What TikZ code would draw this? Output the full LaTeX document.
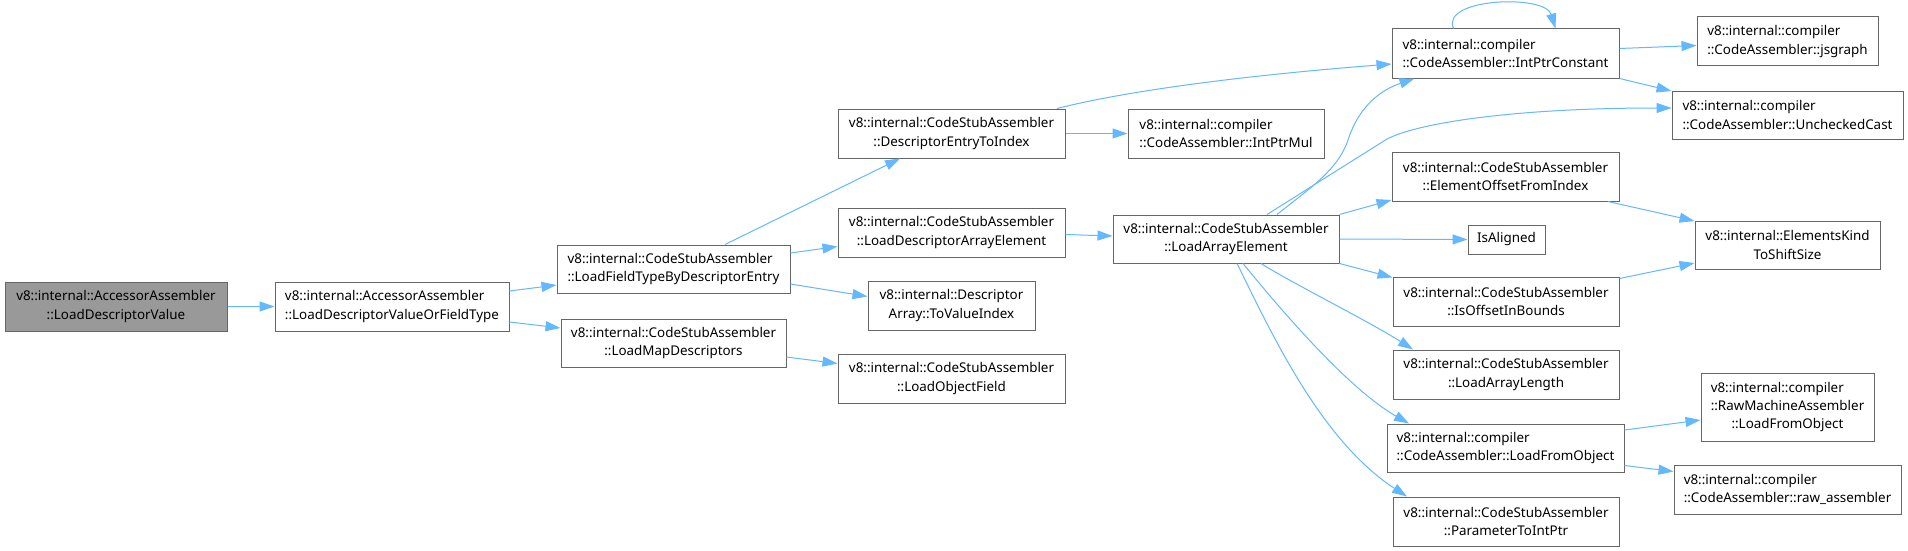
\documentclass[tikz,border=0pt]{standalone}
\usepackage{fontspec}
\setmainfont{Noto Sans}
\usetikzlibrary{arrows.meta,calc}
\definecolor{edgeblue}{HTML}{63B8FF}
\definecolor{boxborder}{HTML}{666666}
\definecolor{selfill}{HTML}{999999}
\newcommand\lalign[2]{\setbox0=\hbox{#1}\makebox[\wd0][l]{#2}}
\begin{document}
\begin{tikzpicture}[x=1pt,y=-1pt,
  box/.style={draw=boxborder, line width=1pt, fill=white, inner sep=0pt, text=black,
    font=\fontsize{13.4}{18.3}\selectfont, align=center},
  lbox/.style={box, align=left},
  link/.style={draw=edgeblue, line width=1pt, -{Triangle[length=15pt,width=10pt]}},
]
\useasboundingbox[fill=white] (0,0) rectangle (1908,551);

% column 0-1
\node[box, fill=selfill, minimum width=222pt, minimum height=49pt] (ldv) at (116,306.5)
  {v8::internal::AccessorAssembler\\::LoadDescriptorValue};
\node[lbox, minimum width=234pt, minimum height=49pt] (ldvo) at (392,306.5)
  {v8::internal::AccessorAssembler\\::LoadDescriptorValueOrFieldType};
% column 2
\node[lbox, minimum width=233pt, minimum height=48pt] (lftbde) at (673.5,269)
  {v8::internal::CodeStubAssembler\\::LoadFieldTypeByDescriptorEntry};
\node[box, minimum width=225pt, minimum height=48pt] (lmd) at (673.5,343)
  {v8::internal::CodeStubAssembler\\::LoadMapDescriptors};
% column 3
\node[box, minimum width=227pt, minimum height=49pt] (deti) at (951.5,133.5)
  {v8::internal::CodeStubAssembler\\::DescriptorEntryToIndex};
\node[box, minimum width=227pt, minimum height=49pt] (ldae) at (951.5,232.5)
  {v8::internal::CodeStubAssembler\\::LoadDescriptorArrayElement};
\node[box, minimum width=167pt, minimum height=49pt] (tvi) at (951.5,305.5)
  {v8::internal::Descriptor\\Array::ToValueIndex};
\node[box, minimum width=227pt, minimum height=49pt] (lof) at (951.5,378.5)
  {v8::internal::CodeStubAssembler\\::LoadObjectField};
% column 4
\node[lbox, minimum width=196pt, minimum height=49pt] (ipm) at (1226,133.5)
  {v8::internal::compiler\\::CodeAssembler::IntPtrMul};
\node[box, minimum width=226pt, minimum height=48pt] (lae) at (1226,239)
  {v8::internal::CodeStubAssembler\\::LoadArrayElement};
% column 5
\node[lbox, minimum width=227pt, minimum height=49pt] (ipc) at (1505.5,53.5)
  {v8::internal::compiler\\::CodeAssembler::IntPtrConstant};
\node[box, minimum width=227pt, minimum height=49pt] (eofi) at (1505.5,176.5)
  {v8::internal::CodeStubAssembler\\::ElementOffsetFromIndex};
\node[box, minimum width=77pt, minimum height=29pt] (isa) at (1506.5,239.5)
  {IsAligned};
\node[box, minimum width=226pt, minimum height=49pt] (ioib) at (1506,301.5)
  {v8::internal::CodeStubAssembler\\::IsOffsetInBounds};
\node[box, minimum width=226pt, minimum height=49pt] (lal) at (1506,374.5)
  {v8::internal::CodeStubAssembler\\::LoadArrayLength};
\node[lbox, minimum width=237pt, minimum height=48pt] (lfo) at (1505.5,448)
  {v8::internal::compiler\\::CodeAssembler::LoadFromObject};
\node[box, minimum width=226pt, minimum height=49pt] (pti) at (1506,521.5)
  {v8::internal::CodeStubAssembler\\::ParameterToIntPtr};
% column 6
\node[lbox, minimum width=181pt, minimum height=49pt] (jsg) at (1787.5,41.5)
  {v8::internal::compiler\\::CodeAssembler::jsgraph};
\node[lbox, minimum width=231pt, minimum height=48pt] (uc) at (1787.5,115)
  {v8::internal::compiler\\::CodeAssembler::UncheckedCast};
\node[box, minimum width=185pt, minimum height=48pt] (ek) at (1787.5,245)
  {v8::internal::ElementsKind\\ToShiftSize};
\node[box, minimum width=173pt, minimum height=68pt] (rma) at (1787.5,407)
  {\lalign{::RawMachineAssembler}{v8::internal::compiler}\\::RawMachineAssembler\\::LoadFromObject};
\node[lbox, minimum width=227pt, minimum height=49pt] (raw) at (1787.5,489.5)
  {v8::internal::compiler\\::CodeAssembler::raw\_assembler};

% edges
\draw[link] (ldv.east) -- (ldvo.west);
\draw[link] ($(ldvo.east)+(0,-15.5)$) -- ($(lftbde.west)+(0,16)$);
\draw[link] ($(ldvo.east)+(0,15.5)$) -- ($(lmd.west)+(0,-15)$);
\draw[link] ($(lftbde.north)+(51.5,0)$) -- ($(deti.south)+(-51.5,0)$);
\draw[link] ($(lftbde.east)+(0,-16)$) -- ($(ldae.west)+(0,14)$);
\draw[link] ($(lftbde.east)+(0,15)$) -- ($(tvi.west)+(0,-9)$);
\draw[link] ($(lmd.east)+(0,14)$) -- ($(lof.west)+(0,-15)$);
\draw[link] ($(deti.north)+(105.5,0)$) .. controls (1130,90) and (1250,75) .. ($(ipc.west)+(0,10.5)$);
\draw[link] (deti.east) -- (ipm.west);
\draw[link] ($(ldae.east)+(0,2)$) -- ($(lae.west)+(0,-3)$);
\draw[link] ($(lae.north)+(51,0)$) .. controls (1310,188) and (1338,170) .. (1348,140)
  .. controls (1357,112) and (1375,92) .. ($(ipc.south)+(-91,0)$);
\draw[link] ($(lae.north)+(41,0)$) -- (1387,139) .. controls (1420,122) and (1520,108) .. ($(uc.west)+(0,-7)$);
\draw[link] (lae.north east) -- ($(eofi.west)+(0,23.5)$);
\draw[link] (lae.east) -- (isa.west);
\draw[link] (lae.south east) -- ($(ioib.west)+(0,-24)$);
\draw[link] ($(lae.south)+(35,0)$) .. controls (1290,282) and (1370,322) .. ($(lal.north)+(-93,0)$);
\draw[link] ($(lae.south)+(17,0)$) .. controls (1285,315) and (1350,390) .. ($(lfo.north)+(-96.5,0)$);
\draw[link] ($(lae.south)+(11,0)$) .. controls (1270,330) and (1320,440) .. ($(pti.north)+(-99,0)$);
\draw[link] ($(ipc.east)+(0,-5)$) -- ($(jsg.west)+(0,4)$);
\draw[link] (ipc.south east) -- ($(uc.west)+(0,-24)$);
\draw[link] ($(ipc.north)+(-52,0)$) .. controls (1440,-2) and (1545,-6) .. ($(ipc.north)+(50,0)$);
\draw[link] ($(eofi.south)+(102.5,0)$) -- ($(ek.west)+(0,-24)$);
\draw[link] ($(ioib.east)+(0,-23)$) -- ($(ek.west)+(0,18)$);
\draw[link] ($(lfo.east)+(0,-18)$) -- ($(rma.west)+(0,13)$);
\draw[link] ($(lfo.east)+(0,17.5)$) -- ($(raw.west)+(0,-18)$);
\end{tikzpicture}
\end{document}
